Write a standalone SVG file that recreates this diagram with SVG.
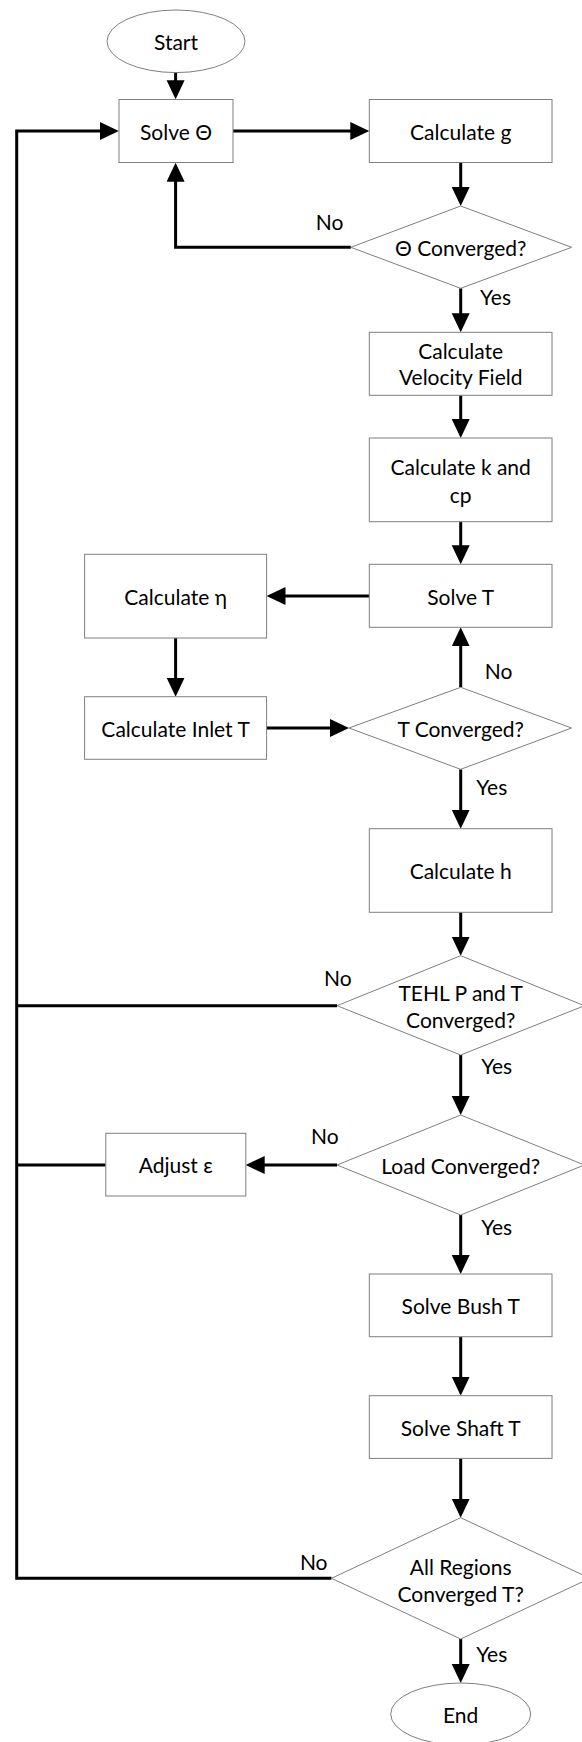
<svg xmlns="http://www.w3.org/2000/svg" width="582" height="1742" viewBox="0 0 582 1742">
<defs>
<marker id="ah" markerUnits="userSpaceOnUse" markerWidth="20" markerHeight="20" refX="15" refY="9" orient="auto">
<path d="M0,0 L19,9 L0,18 Z" fill="#000"/>
</marker>
<style>
.n{fill:#fff;stroke:#7f7f7f;stroke-width:1}
.t{font-family:Lato,"Liberation Sans",sans-serif;font-size:21px;fill:#000;text-anchor:middle;dominant-baseline:central}
.c{fill:none;stroke:#000;stroke-width:3}
.a{marker-end:url(#ah)}
</style>
</defs>
<rect width="582" height="1742" fill="#fff"/>
<g id="connectors">
<path class="c a" d="M175.6,72.7 V95.3"/>
<path class="c a" d="M232.7,131 H365.3"/>
<path class="c a" d="M460.7,162.7 V202"/>
<path class="c a" d="M350.8,247.3 H175.6 V166.7"/>
<path class="c a" d="M460.7,288.3 V328.3"/>
<path class="c a" d="M460.7,395.3 V434"/>
<path class="c a" d="M460.7,521.7 V560.3"/>
<path class="c a" d="M369.3,596 H270.5"/>
<path class="c a" d="M175.6,638 V692.7"/>
<path class="c a" d="M266.5,728 H345"/>
<path class="c a" d="M460.7,687.3 V631.3"/>
<path class="c a" d="M460.7,769.3 V824.7"/>
<path class="c a" d="M460.7,912.3 V951.7"/>
<path class="c a" d="M460.7,1055 V1111"/>
<path class="c a" d="M337,1165 H249.7"/>
<path class="c a" d="M460.7,1215 V1270"/>
<path class="c a" d="M460.7,1336.7 V1391.7"/>
<path class="c a" d="M460.7,1458.3 V1513.7"/>
<path class="c a" d="M460.7,1639 V1679"/>
<path class="c a" d="M331.5,1578.3 H16.7 V131 H114.8"/>
<path class="c" d="M337,1005.7 H16.7"/>
<path class="c" d="M105.8,1165 H16.7"/>
</g>
<g id="labels">
<text class="t" x="329.6" y="221.7">No</text>
<text class="t" x="495.5" y="296.7">Yes</text>
<text class="t" x="498.5" y="670">No</text>
<text class="t" x="491.8" y="786.7">Yes</text>
<text class="t" x="337.8" y="977.3">No</text>
<text class="t" x="496.7" y="1065.7">Yes</text>
<text class="t" x="324.8" y="1135">No</text>
<text class="t" x="496.7" y="1226">Yes</text>
<text class="t" x="313.7" y="1561">No</text>
<text class="t" x="491.8" y="1653.3">Yes</text>
</g>
<g id="start"><ellipse class="n" cx="176" cy="41.3" rx="69" ry="31.3"/><text class="t" x="176" y="41.3">Start</text></g>
<g id="solve-theta"><rect class="n" x="119" y="99.5" width="114" height="63"/><text class="t" x="176" y="131">Solve Θ</text></g>
<g id="calc-g"><rect class="n" x="369.3" y="99.5" width="182.7" height="63"/><text class="t" x="460.7" y="131">Calculate g</text></g>
<g id="theta-converged"><polygon class="n" points="460.7,206 571.6,247.3 460.7,288.3 350.8,247.3"/><text class="t" x="460.7" y="247.3">Θ Converged?</text></g>
<g id="calc-velocity"><rect class="n" x="369.3" y="332.3" width="182.7" height="63"/><text class="t" x="460.7" y="350">Calculate</text><text class="t" x="460.7" y="376.7">Velocity Field</text></g>
<g id="calc-k-cp"><rect class="n" x="369.3" y="438" width="182.7" height="83.7"/><text class="t" x="460.7" y="466.7">Calculate k and</text><text class="t" x="460.7" y="494.3">cp</text></g>
<g id="solve-t"><rect class="n" x="369.3" y="564.3" width="182.7" height="63"/><text class="t" x="460.7" y="596">Solve T</text></g>
<g id="calc-eta"><rect class="n" x="84.6" y="554.3" width="182" height="83.7"/><text class="t" x="175.6" y="596">Calculate η</text></g>
<g id="calc-inlet-t"><rect class="n" x="84.6" y="696.7" width="182" height="62.6"/><text class="t" x="175.6" y="728">Calculate Inlet T</text></g>
<g id="t-converged"><polygon class="n" points="460.7,687.3 571.6,728 460.7,769.3 349,728"/><text class="t" x="460.7" y="728">T Converged?</text></g>
<g id="calc-h"><rect class="n" x="369.3" y="828.7" width="182.7" height="83.6"/><text class="t" x="460.7" y="870.5">Calculate h</text></g>
<g id="tehl-converged"><polygon class="n" points="460.7,955.7 584.4,1005.7 460.7,1055 337,1005.7"/><text class="t" x="460.7" y="992.3">TEHL P and T</text><text class="t" x="460.7" y="1019">Converged?</text></g>
<g id="load-converged"><polygon class="n" points="460.7,1115 584.4,1165 460.7,1215 337,1165"/><text class="t" x="460.7" y="1165">Load Converged?</text></g>
<g id="adjust-eps"><rect class="n" x="105.8" y="1133.3" width="140" height="62.7"/><text class="t" x="175.8" y="1164.7">Adjust ε</text></g>
<g id="solve-bush"><rect class="n" x="369.3" y="1274" width="182.7" height="62.7"/><text class="t" x="460.7" y="1305.3">Solve Bush T</text></g>
<g id="solve-shaft"><rect class="n" x="369.3" y="1395.7" width="182.7" height="62.7"/><text class="t" x="460.7" y="1427">Solve Shaft T</text></g>
<g id="all-regions"><polygon class="n" points="460.7,1517.7 589.9,1578.3 460.7,1639 331.5,1578.3"/><text class="t" x="460.7" y="1566">All Regions</text><text class="t" x="460.7" y="1593.3">Converged T?</text></g>
<g id="end"><ellipse class="n" cx="460.7" cy="1714" rx="70" ry="31"/><text class="t" x="460.7" y="1714">End</text></g>
</svg>
